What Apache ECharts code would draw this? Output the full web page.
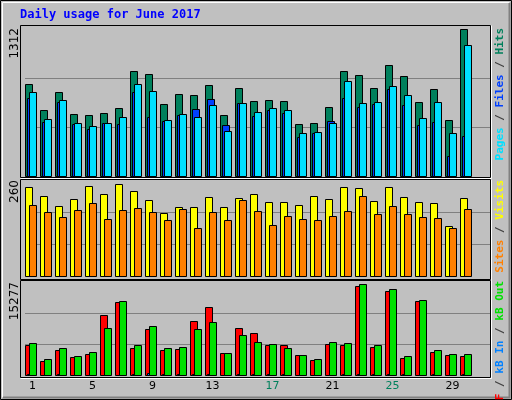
<!DOCTYPE html>
<html><head><meta charset="utf-8">
<script src="https://cdn.jsdelivr.net/npm/echarts@6/dist/echarts.min.js"></script>
<style>html,body{margin:0;padding:0;background:#c0c0c0}#c{width:512px;height:400px}</style>
</head><body><div id="c"></div>
<script>
const days = ['1','2','3','4','5','6','7','8','9','10','11','12','13','14','15','16','17','18','19','20','21','22','23','24','25','26','27','28','29','30','31'];
const weekend = ['3','4','10','11','17','18','24','25','31'];
const hits  = [818,586,747,551,542,560,604,934,908,640,729,720,809,542,783,667,676,667,461,470,613,934,899,783,988,890,658,774,497,1309];
const files = [747,506,676,470,444,470,524,818,756,497,551,524,631,399,649,569,604,586,381,390,470,845,649,658,801,720,515,658,381,1166];
const pages = [693,479,658,461,417,470,461,747,524,488,542,595,685,452,649,533,586,560,345,381,488,693,613,640,774,631,452,479,176,354];
const visits= [244,219,192,211,246,224,252,233,208,172,189,189,216,189,213,224,203,203,194,219,211,244,241,205,244,216,203,200,137,213];
const sites = [194,175,161,181,200,156,181,186,175,153,183,131,175,153,208,178,140,164,156,153,164,178,219,170,192,170,161,159,131,183];
const kbF   = [4929,2300,4108,2957,3450,9858,11994,4436,7558,4108,4272,8872,11172,3615,7722,6901,4929,4929,3286,2464,5093,4929,14623,4600,13801,2793,12158,3779,3286,3122];
const kbOut = [5258,2629,4436,3122,3779,7722,12158,4929,8051,4436,4600,7558,8708,3615,6572,5422,5093,4436,3286,2629,5422,5258,14951,4929,14130,3122,12322,4108,3450,3450];
const kbIn  = [120,40,110,40,40,60,60,90,250,100,110,100,100,40,90,90,90,90,40,40,40,90,100,90,90,90,40,90,40,90];
const maxLabels = [1312, 260, 15277];

const chart = echarts.init(document.getElementById('c'));
function mk(data, color, off, w, gi, z){
  return {type:'custom', xAxisIndex:gi, yAxisIndex:gi, z:z,
    data:data.map((v,i)=>[i,v]),
    renderItem:(p,api)=>{
      const b=api.coord([api.value(0),0]), t=api.coord([api.value(0),api.value(1)]);
      const band=api.size([1,0])[0];
      const x=Math.round(b[0]-band/2+off)+0.5;
      return {type:'rect',shape:{x:x,y:Math.round(t[1])+0.5,width:w,height:Math.round(b[1])-Math.round(t[1])},
        style:{fill:color,stroke:'#000',lineWidth:1}};
    }};
}
const grids=[{left:25,width:465,top:29,height:147},{left:25,width:465,top:181,height:95},{left:25,width:465,top:282,height:93}];
const xAxes=grids.map((g,i)=>({gridIndex:i,type:'category',data:days,
  axisLine:{show:false},axisTick:{show:false},
  axisLabel:{show:i===2,margin:6,fontFamily:'DejaVu Sans',fontSize:11,
    formatter:v=>weekend.includes(v)?'{w|'+v+'}':'{n|'+v+'}',
    rich:{w:{color:'#00805c',fontFamily:'DejaVu Sans',fontSize:11},n:{color:'#000',fontFamily:'DejaVu Sans',fontSize:11}}}}));
const yAxes=maxLabels.map((m,i)=>({gridIndex:i,type:'value',min:0,max:m,interval:m/3,
  axisLine:{show:false},axisTick:{show:false},axisLabel:{show:false},
  splitLine:{show:true,lineStyle:{color:'#808080',width:1}}}));
// hide bottom/top gridlines at min/max via showMinLine/showMaxLine
yAxes.forEach(a=>{a.splitLine.showMinLine=false;a.splitLine.showMaxLine=false;});

function frame(x,y,w,h){return [
  {type:'rect',shape:{x:x+0.5,y:y+0.5,width:w,height:h},style:{fill:'none',stroke:'#000',lineWidth:1},z:100},
  {type:'polyline',shape:{points:[[x+w+1.5,y+0.5],[x+w+1.5,y+h+1.5],[x+0.5,y+h+1.5]]},style:{fill:'none',stroke:'#fff',lineWidth:1},z:100}];}
function vtext(x,y,rich,txt,size){return {type:'text',x:x,y:y,rotation:Math.PI/2,z:100,
  style:{text:txt,rich:rich,align:'right',verticalAlign:'middle',font:'bold '+size+'px "DejaVu Sans Mono"'}};}
const mono='"DejaVu Sans Mono"';
const R=(c)=>({fill:c,font:'bold 11px '+mono});
const graphics=[
  {type:'rect',shape:{x:0.5,y:0.5,width:511,height:399},style:{fill:'none',stroke:'#000',lineWidth:1},z:99},
  {type:'polyline',shape:{points:[[2.5,397.5],[509.5,397.5],[509.5,2.5]]},style:{fill:'none',stroke:'#808080',lineWidth:2},z:99},
  {type:'polyline',shape:{points:[[2.5,397.5],[2.5,2.5],[509.5,2.5]]},style:{fill:'none',stroke:'#fff',lineWidth:1},z:99},
  {type:'text',x:20,y:15,z:100,style:{text:'Daily usage for June 2017',fill:'#0000ff',font:'bold 12px '+mono,verticalAlign:'middle'}},
  ...frame(20,25,470,152),...frame(20,179,470,100),...frame(20,280,470,97),
  vtext(15,28,null,'{k|'+maxLabels[0]+'}',11),
  vtext(15,180,null,'{k|'+maxLabels[1]+'}',11),
  vtext(15,282,null,'{k|'+maxLabels[2]+'}',11),
  vtext(500,28,{p:R('#00e0ff'),s:R('#404040'),f:R('#0040ff'),h:R('#00805c')},'{p|Pages}{s| / }{f|Files}{s| / }{h|Hits}',11),
  vtext(500,180,{a:R('#ff8000'),s:R('#404040'),b:R('#ffff00')},'{a|Sites}{s| / }{b|Visits}',11),
  vtext(500,281,{a:R('#ff0000'),s:R('#404040'),b:R('#0080ff'),c:R('#00e000')},'{a|kB F}{s| / }{b|kB In}{s| / }{c|kB Out}',11)
];
graphics.forEach(g=>{if(g.style&&g.style.rich===null)delete g.style.rich; if(g.type==='text'&&g.style.text.startsWith('{k|')){g.style.rich={k:{fill:'#000',font:'12px "DejaVu Sans"'}};}});
chart.setOption({
  backgroundColor:'#c0c0c0',animation:false,
  grid:grids,xAxis:xAxes,yAxis:yAxes,
  series:[
    mk(hits,'#00805c',0,7,0,1), mk(pages,'#0040ff',2,7,0,2), mk(files,'#00e0ff',4,7,0,3),
    mk(visits,'#ffff00',0,7,1,1), mk(sites,'#ff8000',4,7,1,2),
    mk(kbF,'#ff0000',0,7,2,1), mk(kbIn,'#0080ff',2,2,2,2), mk(kbOut,'#00e000',4,7,2,3)
  ],
  graphic:graphics
});
</script></body></html>
